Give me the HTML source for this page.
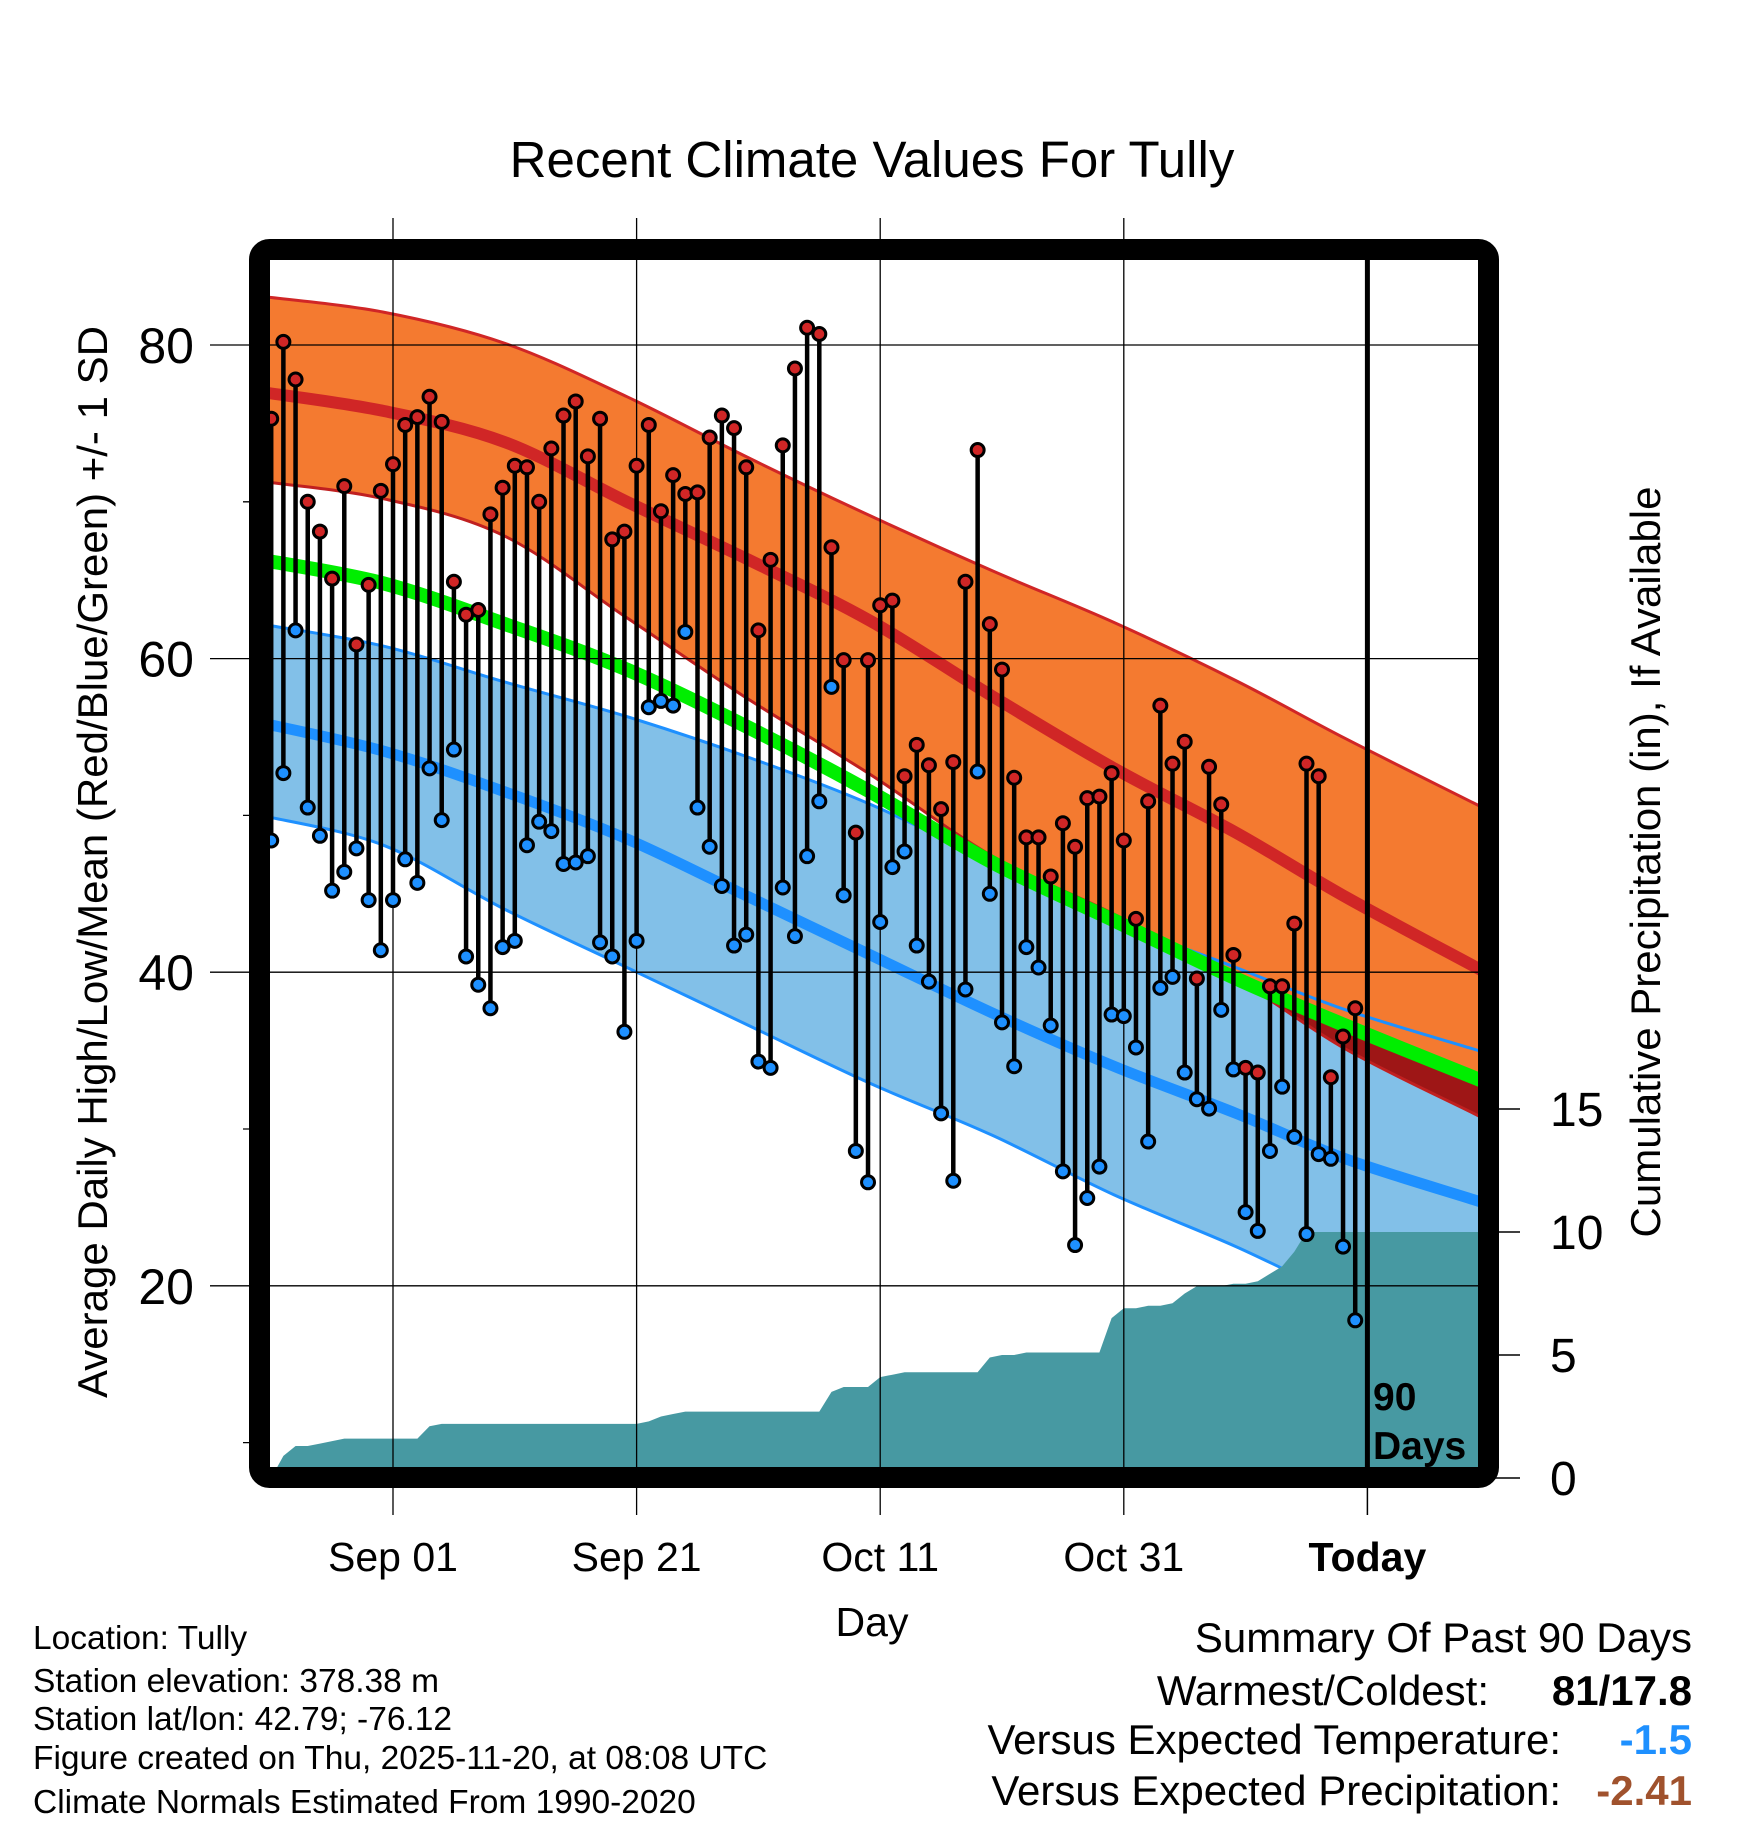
<!DOCTYPE html>
<html><head><meta charset="utf-8"><style>
html,body{margin:0;padding:0;background:#fff}
svg{display:block;font-family:"Liberation Sans",Arial,sans-serif}
</style></head><body>
<svg id="chart" width="1748" height="1828" viewBox="0 0 1748 1828" xmlns="http://www.w3.org/2000/svg">
<defs><clipPath id="pc"><rect x="259.5" y="249.5" width="1229" height="1228"/></clipPath>
<clipPath id="hb"><path id="hbpath" d=""/></clipPath></defs>
<g id="plot" clip-path="url(#pc)"></g>
<g id="over"></g>
<text x="872" y="177" font-size="51" text-anchor="middle">Recent Climate Values For Tully</text>
<text transform="translate(107,862) rotate(-90)" font-size="42" text-anchor="middle">Average Daily High/Low/Mean (Red/Blue/Green) +/- 1 SD</text>
<text transform="translate(1660,862) rotate(-90)" font-size="42" text-anchor="middle">Cumulative Precipitation (in), If Available</text>
<text x="872" y="1636" font-size="41" text-anchor="middle">Day</text>
<g font-size="33.5">
<text x="33" y="1649">Location: Tully</text>
<text x="33" y="1692">Station elevation: 378.38 m</text>
<text x="33" y="1730">Station lat/lon: 42.79; -76.12</text>
<text x="33" y="1769">Figure created on Thu, 2025-11-20, at 08:08 UTC</text>
<text x="33" y="1813">Climate Normals Estimated From 1990-2020</text>
</g>
<g font-size="42" text-anchor="end">
<text x="1692" y="1652">Summary Of Past 90 Days</text>
<text x="1489" y="1705">Warmest/Coldest:</text>
<text x="1692" y="1705" font-weight="bold">81/17.8</text>
<text x="1561" y="1754">Versus Expected Temperature:</text>
<text x="1692" y="1754" font-weight="bold" fill="#1e90ff">-1.5</text>
<text x="1561" y="1805">Versus Expected Precipitation:</text>
<text x="1692" y="1805" font-weight="bold" fill="#a0522d">-2.41</text>
</g>
</svg>
<script>
const highs=[75.3,80.2,77.8,70,68.1,65.1,71,60.9,64.7,70.7,72.4,74.9,75.4,76.7,75.1,64.9,62.8,63.1,69.2,70.9,72.3,72.2,70,73.4,75.5,76.4,72.9,75.3,67.6,68.1,72.3,74.9,69.4,71.7,70.5,70.6,74.1,75.5,74.7,72.2,61.8,66.3,73.6,78.5,81.1,80.7,67.1,59.9,48.9,59.9,63.4,63.7,52.5,54.5,53.2,50.4,53.4,64.9,73.3,62.2,59.3,52.4,48.6,48.6,46.1,49.5,48,51.1,51.2,52.7,48.4,43.4,50.9,57,53.3,54.7,39.6,53.1,50.7,41.1,33.9,33.6,39.1,39.1,43.1,53.3,52.5,33.3,35.9,37.7];
const lows=[48.4,52.7,61.8,50.5,48.7,45.2,46.4,47.9,44.6,41.4,44.6,47.2,45.7,53,49.7,54.2,41,39.2,37.7,41.6,42,48.1,49.6,49,46.9,47,47.4,41.9,41,36.2,42,56.9,57.3,57,61.7,50.5,48,45.5,41.7,42.4,34.3,33.9,45.4,42.3,47.4,50.9,58.2,44.9,28.6,26.6,43.2,46.7,47.7,41.7,39.4,31,26.7,38.9,52.8,45,36.8,34,41.6,40.3,36.6,27.3,22.6,25.6,27.6,37.3,37.2,35.2,29.2,39,39.7,33.6,31.9,31.3,37.6,33.8,24.7,23.5,28.6,32.7,29.5,23.3,28.4,28.1,22.5,17.8];
const precip=[0,0.9,1.3,1.3,1.4,1.5,1.6,1.6,1.6,1.6,1.6,1.6,1.6,2.1,2.2,2.2,2.2,2.2,2.2,2.2,2.2,2.2,2.2,2.2,2.2,2.2,2.2,2.2,2.2,2.2,2.2,2.3,2.5,2.6,2.7,2.7,2.7,2.7,2.7,2.7,2.7,2.7,2.7,2.7,2.7,2.7,3.5,3.7,3.7,3.7,4.1,4.2,4.3,4.3,4.3,4.3,4.3,4.3,4.3,4.9,5.0,5.0,5.1,5.1,5.1,5.1,5.1,5.1,5.1,6.5,6.9,6.9,7.0,7.0,7.1,7.5,7.8,7.8,7.8,7.9,7.9,8.0,8.3,8.6,9.2,10.0,10.0,10.0,10.0,10.0];
const normDays=[0,10,20,30,40,50,60,70,80,89,99.5];
const highUpper=[83.1,82.1,80.1,76.7,72.8,69.1,65.6,62.3,58.6,54.9,50.8];
const highMean=[77.0,75.8,73.8,70,66.3,62.4,57.6,53,48.9,44.8,40.4];
const highLower=[71.3,70.2,67.8,62.6,57.4,52.6,47.4,43.7,39.6,35.1,31];
const meanTemp=[66.3,64.8,62.2,59.3,55.6,51.5,47,43.3,39.6,36.6,33.3];
const lowUpper=[62.2,60.8,58.5,56.3,53.7,50.7,47,43.3,40.3,37.6,35.1];
const lowMean=[55.9,54.1,51.5,48.5,44.8,41.1,37.4,34,31,28.1,25.5];
const lowLower=[50,48.1,44,40.3,36.6,32.9,29.6,25.8,22.5,19.2,15.8];
const tempTicks=[20,40,60,80];
const minorTicks=[10,30,50,70];
const precipTicks=[0,5,10,15];
const dateLabels=["Sep 01","Sep 21","Oct 11","Oct 31","Today"];
const dateDays=[10,30,50,70,90];

const NS="http://www.w3.org/2000/svg";
const X=d=>393+(d-10)*12.18;
const Y=t=>345+(80-t)*15.68;
const YP=p=>1478-p*24.6;
const plot=document.getElementById('plot'),over=document.getElementById('over');
function mk(tag,attrs,parent){const e=document.createElementNS(NS,tag);for(const k in attrs)e.setAttribute(k,attrs[k]);parent.appendChild(e);return e;}
function pts(arr){return arr.map((v,i)=>[X(normDays[i]-0.8),Y(v)]);}
function smooth(p,start){let d=start?('M'+p[0][0].toFixed(1)+','+p[0][1].toFixed(1)):(' L'+p[0][0].toFixed(1)+','+p[0][1].toFixed(1));
  for(let i=0;i<p.length-1;i++){const p0=p[i-1]||p[i],p1=p[i],p2=p[i+1],p3=p[i+2]||p2;
    const c1=[p1[0]+(p2[0]-p0[0])/6,p1[1]+(p2[1]-p0[1])/6],c2=[p2[0]-(p3[0]-p1[0])/6,p2[1]-(p3[1]-p1[1])/6];
    d+=' C'+c1.map(v=>v.toFixed(1)).join(',')+' '+c2.map(v=>v.toFixed(1)).join(',')+' '+p2[0].toFixed(1)+','+p2[1].toFixed(1);}
  return d;}
function ext(p){const a=p[0],b=p[1],n=p.length;const L=p[n-2],R=p[n-1];
  const s0=(b[1]-a[1])/(b[0]-a[0]),s1=(R[1]-L[1])/(R[0]-L[0]);
  return [[245,a[1]+(245-a[0])*s0]].concat(p,[[1505,R[1]+(1505-R[0])*s1]]);}
function lineD(arr){return smooth(ext(pts(arr)),true);}
function bandD(up,lo){return smooth(ext(pts(up)),true)+smooth(ext(pts(lo)).reverse(),false)+'Z';}

let e;
e=mk('path',{d:bandD(lowUpper,lowLower),fill:'#82c0e8'},plot);


e=mk('path',{d:lineD(lowLower),fill:'none',stroke:'#1e90ff','stroke-width':3},plot);


e=mk('path',{d:lineD(lowMean),fill:'none',stroke:'#1e90ff','stroke-width':11},plot);


const hbd=bandD(highUpper,highLower);
document.getElementById('hbpath').setAttribute('d',hbd);
e=mk('path',{d:hbd,fill:'#f47a30'},plot);


e=mk('path',{d:lineD(meanTemp)+' L1505,1600 L245,1600Z',fill:'#9e1616','clip-path':'url(#hb)'},plot);


e=mk('path',{d:lineD(lowUpper),fill:'none',stroke:'#1e90ff','stroke-width':3},plot);


e=mk('path',{d:lineD(highUpper),fill:'none',stroke:'#d02626','stroke-width':3},plot);


e=mk('path',{d:lineD(highLower),fill:'none',stroke:'#c02020','stroke-width':3},plot);


e=mk('path',{d:lineD(meanTemp),fill:'none',stroke:'#00ee00','stroke-width':14},plot);


e=mk('path',{d:lineD(highMean),fill:'none',stroke:'#d02626','stroke-width':12},plot);



let pd='M'+X(0).toFixed(1)+','+YP(0);
precip.forEach((p,i)=>{pd+=' L'+X(i).toFixed(1)+','+YP(p).toFixed(1);});
pd+=' L1500,'+YP(precip[precip.length-1]).toFixed(1)+' L1500,1490 L'+X(0).toFixed(1)+',1490Z';
e=mk('path',{d:pd,fill:'#4799a2'},plot);



tempTicks.forEach(t=>{
  e=mk('line',{x1:210,x2:1488,y1:Y(t),y2:Y(t),stroke:'#000','stroke-width':1.3},over);
  
  
  e=mk('text',{x:194,y:Y(t)+18,'font-size':50,'text-anchor':'end'},over);
  e.textContent=t;
  
  
});
minorTicks.forEach(t=>{
  e=mk('line',{x1:243,x2:260,y1:Y(t),y2:Y(t),stroke:'#000','stroke-width':1.3},over);
  
  
});
dateDays.forEach((d,i)=>{
  if(i<4){e=mk('line',{x1:X(d),x2:X(d),y1:218,y2:1515,stroke:'#000','stroke-width':1.3},over);}
  else{e=mk('line',{x1:X(d),x2:X(d),y1:1478,y2:1515,stroke:'#000','stroke-width':1.5},over);}
  
  
  e=mk('text',{x:X(d),y:1571,'font-size':41,'text-anchor':'middle','font-weight':i==4?'bold':'normal'},over);
  e.textContent=dateLabels[i];
  
  
});
precipTicks.forEach(p=>{
  e=mk('line',{x1:1488,x2:1520,y1:YP(p),y2:YP(p),stroke:'#000','stroke-width':1.5},over);
  
  
  e=mk('text',{x:1550,y:YP(p)+17,'font-size':48},over);
  e.textContent=p;
  
  
});

highs.forEach((h,i)=>{
  const x=X(i);
  e=mk('line',{x1:x,x2:x,y1:Y(h),y2:Y(lows[i]),stroke:'#000','stroke-width':4.5},over);
  
  
});
highs.forEach((h,i)=>{
  const x=X(i);
  e=mk('circle',{cx:x,cy:Y(lows[i]),r:6.5,fill:'#1e90ff',stroke:'#000','stroke-width':3},over);
  
  
  e=mk('circle',{cx:x,cy:Y(h),r:6.5,fill:'#d02626',stroke:'#000','stroke-width':3},over);
  
  
});

e=mk('line',{x1:X(90),x2:X(90),y1:250,y2:1478,stroke:'#000','stroke-width':5},over);


e=mk('text',{x:1373,y:1410,'font-size':39,'font-weight':'bold'},over);
e.textContent='90';


e=mk('text',{x:1373,y:1459,'font-size':39,'font-weight':'bold'},over);
e.textContent='Days';



e=mk('rect',{x:259.5,y:249.5,width:1229,height:1228,rx:10,fill:'none',stroke:'#000','stroke-width':21},over);


</script>
</body></html>
